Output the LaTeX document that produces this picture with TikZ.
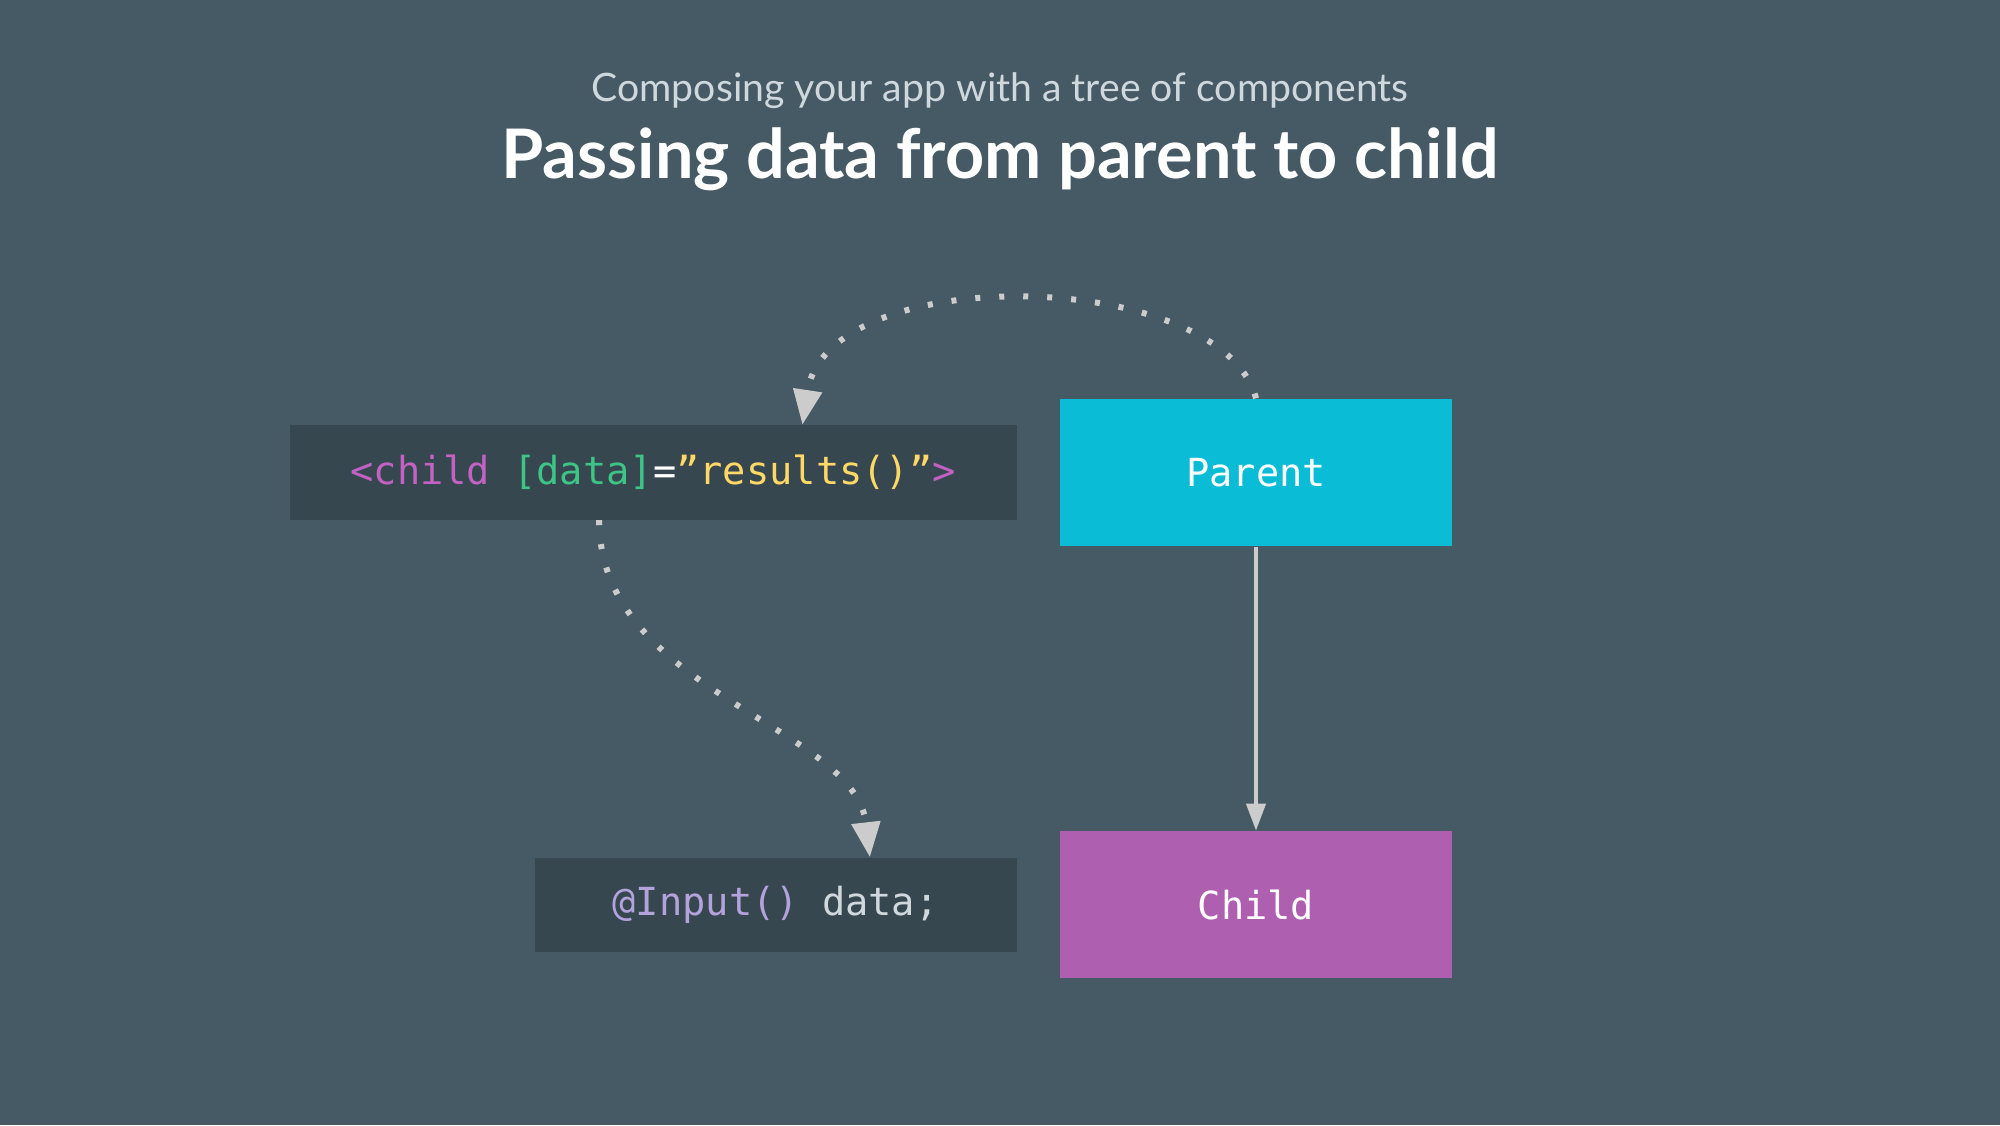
\documentclass[tikz,border=0pt]{standalone}
\usepackage{fontspec}
\setmainfont{Lato}
\setmonofont{DejaVu Sans Mono}
\usetikzlibrary{arrows.meta,calc,positioning}

\definecolor{slate}{HTML}{455A64}
\definecolor{codebg}{HTML}{37474F}
\definecolor{parentcyan}{HTML}{0ABCD6}
\definecolor{childpurple}{HTML}{AF5FB0}
\definecolor{linkgrey}{HTML}{CCCCCC}
\definecolor{subgrey}{HTML}{CFD8DC}
\definecolor{tagpink}{HTML}{C262C3}
\definecolor{attrgreen}{HTML}{3EC486}
\definecolor{stryellow}{HTML}{FFD866}
\definecolor{decolilac}{HTML}{B3A2DC}

\begin{document}
\begin{tikzpicture}[box/.style={minimum width=3.92cm, minimum height=1.47cm, inner sep=0pt, text=white,
        font=\ttfamily\fontsize{11}{13}\selectfont},
        code/.style={fill=codebg, minimum height=0.94cm, inner sep=0pt, text=subgrey,
        font=\ttfamily\fontsize{11}{13}\selectfont},
        link/.style={draw=linkgrey, line width=0.04cm},
        dotlink/.style={link, line width=0.06cm, dash pattern=on 0.05cm off 0.19cm},
        >=Stealth]

        \fill[slate] (0,0) rectangle (20,11.25);

        \node[text=subgrey, font=\fontsize{11.15}{13}\selectfont, anchor=base] (subtitle) at (10,10.23)
            {Composing your app with a tree of components};
        \node[text=white, font=\bfseries\fontsize{19.45}{23}\selectfont, anchor=base] (title) at (10,9.46)
            {Passing data from parent to child};

        \node[box, fill=parentcyan] (parent) at (12.56,6.525) {Parent};
        \node[box, fill=childpurple, below=2.84cm of parent] (child) {Child};

        \node[code, minimum width=7.27cm, left=0.42cm of parent] (binding)
            {{\color{tagpink}<child} {\color{attrgreen}[data]}{\color{white}=}{\color{stryellow}”results()”}{\color{tagpink}>}};
        \node[code, minimum width=4.82cm, left=0.42cm of child] (input)
            {{\color{decolilac}@Input()} data;};

        \coordinate (bindtop) at ($(binding.north west)!0.705!(binding.north east)$);
        \coordinate (bindbottom) at ($(binding.south west)!0.426!(binding.south east)$);
        \coordinate (inputtop) at ($(input.north west)!0.695!(input.north east)$);

        \draw[link, -{Triangle[length=0.27cm, width=0.19cm]}] (parent) -- (child);
        \draw[dotlink, -{Triangle[length=0.35cm, width=0.28cm]}] (parent.north)
            .. controls +(-0.35,1.31) and +(0.25,1.65) .. (bindtop);
        \draw[dotlink, -{Triangle[length=0.35cm, width=0.28cm]}] (bindbottom)
            .. controls +(0,-1.72) and +(-0.15,1.32) .. (inputtop);

    \end{tikzpicture}
\end{document}
